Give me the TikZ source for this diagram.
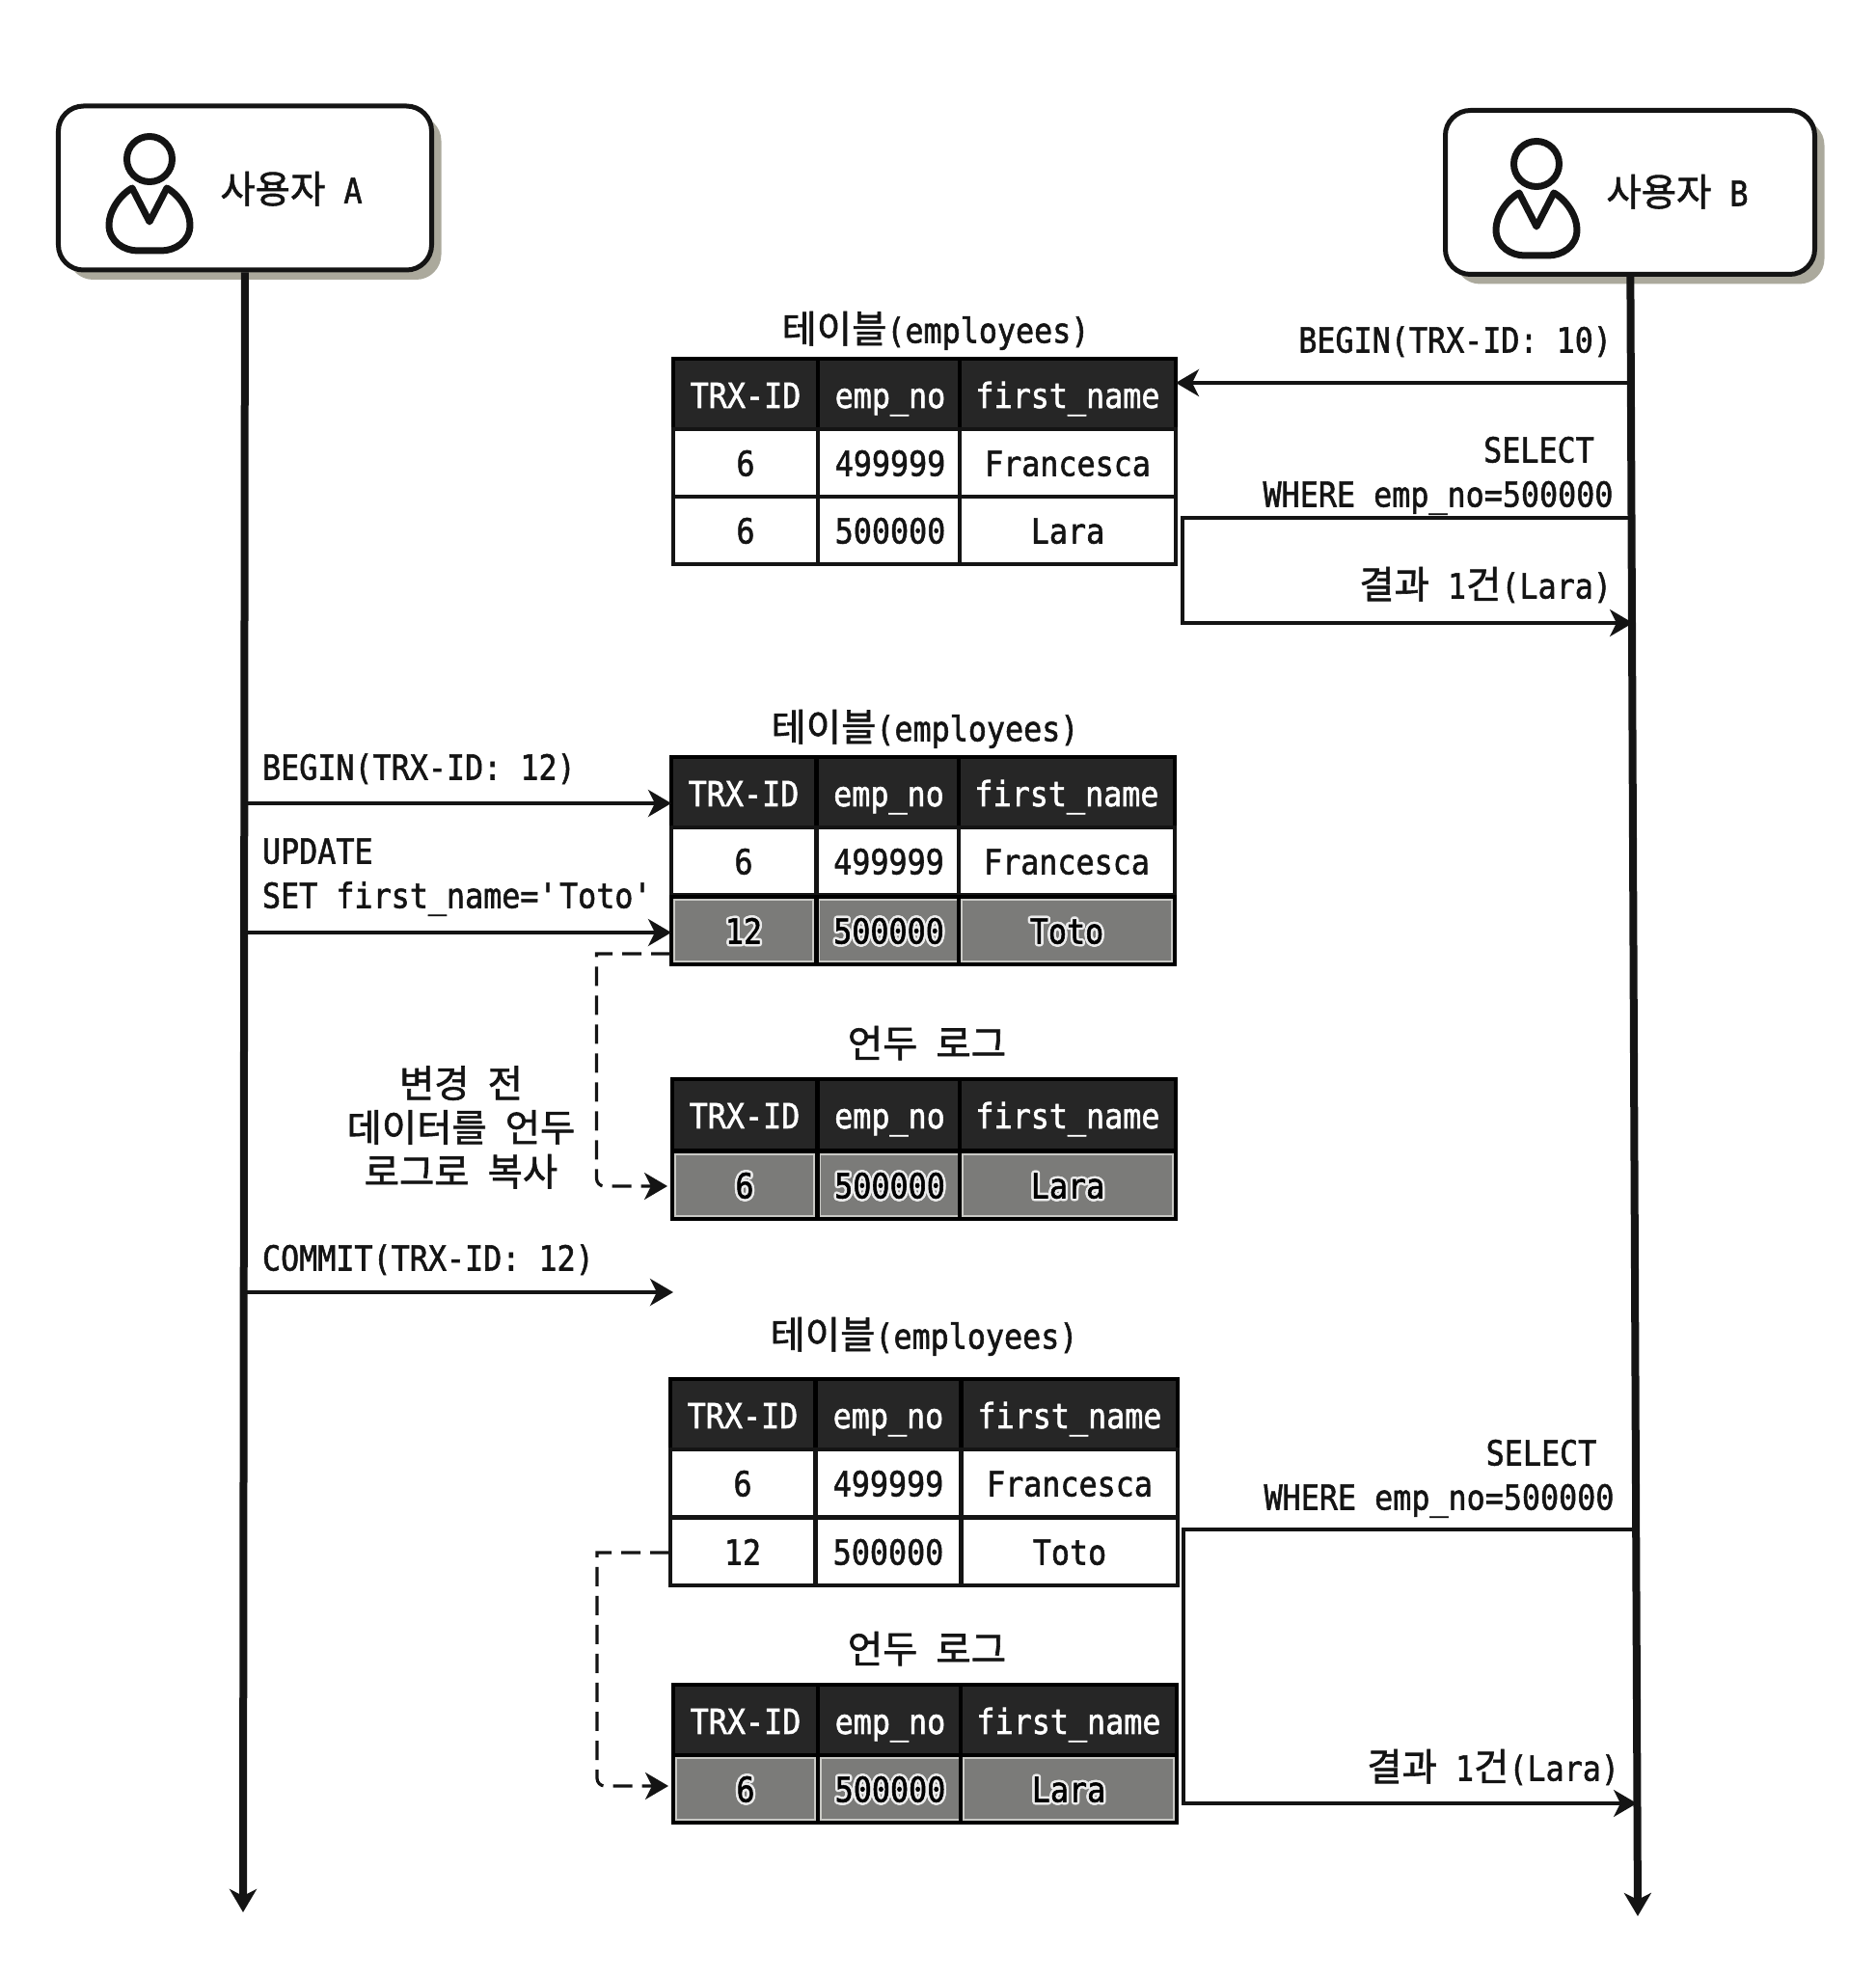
\documentclass[tikz,border=0pt]{standalone}
\usepackage{fontspec}
\setmainfont[FakeStretch=.885,FakeBold=1.5]{DejaVu Sans Mono}
\newfontfamily\kr[Scale=1.1,FakeBold=1.5]{Noto Sans CJK KR}
\usepackage{xcolor}
\usepackage{contour}
\contourlength{.025cm}
\usetikzlibrary{arrows.meta,shadows}
\definecolor{ink}{HTML}{141414}
\definecolor{hdfill}{HTML}{262626}
\definecolor{grayfill}{HTML}{7B7B79}
\definecolor{grayline}{HTML}{C9C9C5}
\definecolor{shd}{HTML}{ABA99C}
\newcommand{\halo}[1]{\contour{white!85!grayfill}{#1}}
\tikzset{
  txt/.style={inner sep=0pt,outer sep=0pt,text=ink,font=\fontsize{10.2pt}{13pt}\selectfont,text height=.27cm,text depth=0cm},
  usr/.style={draw=ink,fill=white,line width=.05cm,rounded corners=.26cm,minimum width=3.87cm,minimum height=1.7cm,drop shadow={shadow xshift=.1cm,shadow yshift=-.1cm,fill=shd,opacity=1}},
  cell/.style={txt,draw=ink,fill=white,line width=.04cm,minimum height=.7cm,minimum width=1.5cm},
  hd/.style={cell,fill=hdfill,draw=black,text=white,minimum height=.74cm},
  gry/.style={cell,fill=grayfill,draw=black,text=black,path picture={\draw[grayline,line width=.075cm] (path picture bounding box.south west) rectangle (path picture bounding box.north east);}},
  wide/.style={minimum width=2.24cm},
  life/.style={ink,line width=.08cm},
  msg/.style={ink,line width=.035cm},
  copyline/.style={ink,line width=.032cm,dash pattern=on .2cm off .1cm,shorten >=.05cm},
  usericon/.pic={
    \draw[ink,line width=.07cm] (0,0) circle (.235);
    \draw[ink,line width=.07cm,line join=round] (-.18,-.30) -- (0,-.65) -- (.18,-.30)
      .. controls (.32,-.38) and (.42,-.55) .. (.42,-.68)
      .. controls (.42,-.86) and (.26,-.95) .. (.12,-.95) -- (-.12,-.95)
      .. controls (-.26,-.95) and (-.42,-.86) .. (-.42,-.68)
      .. controls (-.42,-.55) and (-.32,-.38) .. (-.18,-.30) -- cycle;
  }
}

\begin{document}
\begin{tikzpicture}[>={Stealth[length=.24cm,width=.28cm,inset=.07cm]}]
  \useasboundingbox (0,0) rectangle (19.45,20.48);

  % users
  \node[usr] (usrA) at (2.54,18.53) {};
  \node[usr,minimum width=3.83cm] (usrB) at (16.90,18.485) {};
  \pic at (1.55,18.83) {usericon};
  \pic at (15.93,18.78) {usericon};
  \node[txt] (nameA) at (3.02,18.51) {{\kr 사용자} A};
  \node[txt] (nameB) at (17.39,18.48) {{\kr 사용자} B};
  \coordinate (endA) at (2.52,.65);
  \coordinate (endB) at (16.98,.61);
  \draw[life,->] (usrA) -- (endA);
  \draw[life,->] (usrB) -- (endB);

  % first table
  \node[txt] (ttl1) at (9.70,17.06) {{\kr 테이블}(employees)};
  \node[hd] (t1a) at (7.73,16.385) {TRX-ID};
  \node[hd] (t1b) at (9.23,16.385) {emp\_no};
  \node[hd,wide] (t1c) at (11.07,16.385) {first\_name};
  \node[cell] (t1d) at (7.73,15.68) {6};
  \node[cell] (t1e) at (9.23,15.68) {499999};
  \node[cell,wide] (t1f) at (11.07,15.68) {Francesca};
  \node[cell] (t1g) at (7.73,14.98) {6};
  \node[cell] (t1h) at (9.23,14.98) {500000};
  \node[cell,wide] (t1i) at (11.07,14.98) {Lara};

  \node[txt,anchor=east] (lblb10) at (16.71,16.96) {BEGIN(TRX-ID: 10)};
  \coordinate (b10) at (16.93,16.51);
  \draw[msg,->] (b10) -- (b10 -| t1c.east);
  \node[txt] (lblsa) at (15.955,15.82) {SELECT};
  \node[txt] (lblwa) at (14.91,15.36) {WHERE emp\_no=500000};
  \node[txt,anchor=east] (lblra) at (16.71,14.41) {{\kr 결과} 1{\kr 건}(Lara)};
  \coordinate (sa1) at (16.93,15.11);
  \coordinate (sa2) at (12.26,15.11);
  \coordinate (sa3) at (12.26,14.02);
  \coordinate (sa4) at (16.93,14.02);
  \draw[msg,->] (sa1) -- (sa2) -- (sa3) -- (sa4);

  % update by user A
  \node[txt] (ttl2) at (9.59,12.93) {{\kr 테이블}(employees)};
  \node[hd] (t2a) at (7.71,12.255) {TRX-ID};
  \node[hd] (t2b) at (9.215,12.255) {emp\_no};
  \node[hd,wide] (t2c) at (11.06,12.255) {first\_name};
  \node[cell] (t2d) at (7.71,11.55) {6};
  \node[cell] (t2e) at (9.215,11.55) {499999};
  \node[cell,wide] (t2f) at (11.06,11.55) {Francesca};
  \node[gry] (t2g) at (7.71,10.83) {\halo{12}};
  \node[gry] (t2h) at (9.215,10.83) {\halo{500000}};
  \node[gry,wide] (t2i) at (11.06,10.83) {\halo{Toto}};

  \node[txt,anchor=west] (lblb12) at (2.72,12.53) {BEGIN(TRX-ID: 12)};
  \coordinate (b12) at (2.53,12.15);
  \draw[msg,->] (b12) -- (b12 -| t2a.west);
  \node[txt,anchor=west] (lblup) at (2.72,11.66) {UPDATE};
  \node[txt,anchor=west] (lblset) at (2.72,11.20) {SET first\_name=\textquotesingle Toto\textquotesingle};
  \coordinate (upd) at (2.53,10.81);
  \draw[msg,->] (upd) -- (upd -| t2g.west);

  % undo log
  \node[txt] (ttl3) at (9.61,9.65) {{\kr 언두} {\kr 로그}};
  \node[hd] (t3a) at (7.72,8.915) {TRX-ID};
  \node[hd] (t3b) at (9.225,8.915) {emp\_no};
  \node[hd,wide] (t3c) at (11.07,8.915) {first\_name};
  \node[gry] (t3d) at (7.72,8.19) {\halo{6}};
  \node[gry] (t3e) at (9.225,8.19) {\halo{500000}};
  \node[gry,wide] (t3f) at (11.07,8.19) {\halo{Lara}};

  \coordinate (da1) at (6.95,10.59);
  \coordinate (da2) at (6.185,10.59);
  \coordinate (da3) at (6.185,8.18);
  \draw[copyline,->] (da1) -- (da2) [rounded corners=.08cm] -- (da3) -- (da3 -| t3d.west);
  \node[txt,align=center,text height=,text depth=] (lblcp) at (4.78,8.79) {{\kr 변경} {\kr 전}\\{\kr 데이터를} {\kr 언두}\\{\kr 로그로} {\kr 복사}};

  % commit
  \node[txt,anchor=west] (lblcm) at (2.72,7.44) {COMMIT(TRX-ID: 12)};
  \coordinate (cm1) at (2.53,7.08);
  \coordinate (cm2) at (6.98,7.08);
  \draw[msg,->] (cm1) -- (cm2);

  % table after commit
  \node[txt] (ttl4) at (9.58,6.63) {{\kr 테이블}(employees)};
  \node[hd] (t4a) at (7.70,5.805) {TRX-ID};
  \node[hd] (t4b) at (9.21,5.805) {emp\_no};
  \node[hd,wide] (t4c) at (11.09,5.805) {first\_name};
  \node[cell] (t4d) at (7.70,5.10) {6};
  \node[cell] (t4e) at (9.21,5.10) {499999};
  \node[cell,wide] (t4f) at (11.09,5.10) {Francesca};
  \node[cell] (t4g) at (7.70,4.39) {12};
  \node[cell] (t4h) at (9.21,4.39) {500000};
  \node[cell,wide] (t4i) at (11.09,4.39) {Toto};

  \node[txt] (ttl5) at (9.61,3.37) {{\kr 언두} {\kr 로그}};
  \node[hd] (t5a) at (7.73,2.635) {TRX-ID};
  \node[hd] (t5b) at (9.23,2.635) {emp\_no};
  \node[hd,wide] (t5c) at (11.08,2.635) {first\_name};
  \node[gry] (t5d) at (7.73,1.93) {\halo{6}};
  \node[gry] (t5e) at (9.23,1.93) {\halo{500000}};
  \node[gry,wide] (t5f) at (11.08,1.93) {\halo{Lara}};

  \coordinate (db1) at (6.94,4.38);
  \coordinate (db2) at (6.19,4.38);
  \coordinate (db3) at (6.19,1.96);
  \draw[copyline,->] (db1) -- (db2) [rounded corners=.08cm] -- (db3) -- (db3 -| t5d.west);

  \node[txt] (lblsb) at (15.98,5.42) {SELECT};
  \node[txt] (lblwb) at (14.92,4.96) {WHERE emp\_no=500000};
  \node[txt,anchor=east] (lblrb) at (16.79,2.15) {{\kr 결과} 1{\kr 건}(Lara)};
  \coordinate (sb1) at (16.97,4.62);
  \coordinate (sb2) at (12.27,4.62);
  \coordinate (sb3) at (12.27,1.78);
  \coordinate (sb4) at (16.97,1.78);
  \draw[msg,->] (sb1) -- (sb2) -- (sb3) -- (sb4);
\end{tikzpicture}
\end{document}
